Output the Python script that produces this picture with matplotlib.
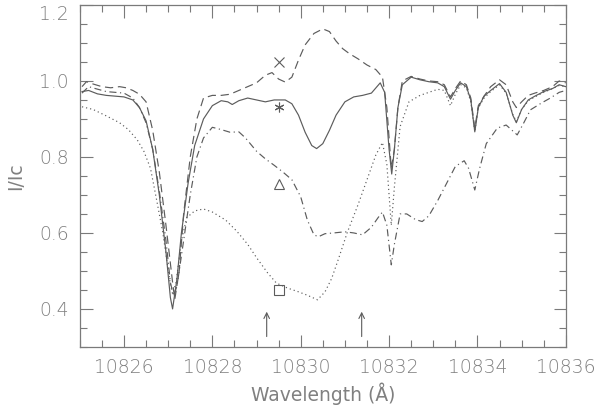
import numpy as np
import matplotlib
matplotlib.use("Agg")
import matplotlib.pyplot as plt
from matplotlib.ticker import MultipleLocator

# Solid profile
wl_solid = [10825.05, 10825.2, 10825.4, 10825.6, 10825.8, 10826.0, 10826.2, 10826.35, 10826.5, 10826.65,
            10826.8, 10826.95, 10827.05, 10827.1, 10827.2, 10827.3, 10827.45, 10827.6, 10827.8, 10828.0,
            10828.2, 10828.35, 10828.45, 10828.6, 10828.8, 10829.0, 10829.2, 10829.4, 10829.65, 10829.8,
            10829.95, 10830.1, 10830.25, 10830.36, 10830.5, 10830.65, 10830.8, 10831.0, 10831.2, 10831.4,
            10831.6, 10831.8, 10831.9, 10832.0, 10832.06, 10832.12, 10832.2, 10832.3, 10832.5, 10832.7,
            10832.9, 10833.1, 10833.25, 10833.39, 10833.5, 10833.62, 10833.75, 10833.85, 10833.94, 10834.02,
            10834.15, 10834.3, 10834.5, 10834.65, 10834.8, 10834.88, 10835.0, 10835.15, 10835.3, 10835.5,
            10835.7, 10835.85, 10836.0]
i_solid = [0.972, 0.975, 0.966, 0.962, 0.960, 0.958, 0.950, 0.930, 0.895, 0.820,
           0.700, 0.550, 0.430, 0.400, 0.480, 0.600, 0.730, 0.830, 0.900, 0.935,
           0.948, 0.945, 0.938, 0.948, 0.955, 0.950, 0.945, 0.950, 0.950, 0.940,
           0.910, 0.865, 0.830, 0.822, 0.835, 0.870, 0.910, 0.945, 0.958, 0.962,
           0.968, 0.995, 0.970, 0.820, 0.755, 0.820, 0.930, 0.990, 1.010, 1.003,
           0.998, 0.995, 0.985, 0.952, 0.975, 0.995, 0.985, 0.950, 0.866, 0.930,
           0.960, 0.975, 0.993, 0.970, 0.910, 0.890, 0.925, 0.950, 0.960, 0.972,
           0.980, 0.990, 0.985]

# Long dashed profile
wl_dash = [10825.05, 10825.15, 10825.3, 10825.5, 10825.7, 10825.9, 10826.05, 10826.2, 10826.35, 10826.5,
           10826.65, 10826.8, 10826.95, 10827.1, 10827.15, 10827.25, 10827.35, 10827.5, 10827.65, 10827.8,
           10828.0, 10828.2, 10828.4, 10828.6, 10828.8, 10829.0, 10829.2, 10829.35, 10829.5, 10829.65,
           10829.8, 10829.95, 10830.1, 10830.3, 10830.5, 10830.65, 10830.8, 10830.95, 10831.1, 10831.3,
           10831.5, 10831.7, 10831.85, 10831.95, 10832.05, 10832.12, 10832.2, 10832.3, 10832.5, 10832.7,
           10832.9, 10833.1, 10833.25, 10833.39, 10833.5, 10833.62, 10833.75, 10833.85, 10833.94, 10834.02,
           10834.15, 10834.3, 10834.5, 10834.65, 10834.8, 10834.88, 10835.0, 10835.15, 10835.3, 10835.5,
           10835.7, 10835.85, 10836.0]
i_dash = [0.985, 0.998, 0.992, 0.985, 0.982, 0.985, 0.982, 0.975, 0.965, 0.945,
          0.870, 0.760, 0.620, 0.470, 0.425, 0.500, 0.650, 0.800, 0.900, 0.955,
          0.962, 0.962, 0.965, 0.975, 0.985, 0.995, 1.015, 1.022, 1.005, 0.997,
          1.010, 1.055, 1.095, 1.125, 1.137, 1.130, 1.105, 1.085, 1.072, 1.058,
          1.042, 1.030, 1.010, 0.930, 0.770, 0.820, 0.930, 1.000, 1.012, 1.005,
          1.000, 0.998, 0.990, 0.958, 0.980, 1.000, 0.990, 0.955, 0.875, 0.935,
          0.960, 0.985, 1.003, 0.990, 0.945, 0.930, 0.945, 0.962, 0.968, 0.975,
          0.985, 1.000, 0.995]

# Dash-dot profile
wl_dashdot = [10825.05, 10825.2, 10825.35, 10825.6, 10825.8, 10826.0, 10826.2, 10826.35, 10826.5, 10826.65,
              10826.8, 10826.95, 10827.05, 10827.12, 10827.2, 10827.35, 10827.5, 10827.65, 10827.8, 10828.0,
              10828.2, 10828.4, 10828.6, 10828.75, 10829.0, 10829.2, 10829.4, 10829.6, 10829.8, 10830.0,
              10830.15, 10830.3, 10830.4, 10830.55, 10830.75, 10831.0, 10831.2, 10831.4, 10831.6, 10831.75,
              10831.85, 10831.95, 10832.05, 10832.12, 10832.25, 10832.4, 10832.6, 10832.75, 10832.9, 10833.1,
              10833.3, 10833.5, 10833.7, 10833.8, 10833.94, 10834.05, 10834.2, 10834.45, 10834.65, 10834.9,
              10835.05, 10835.2, 10835.45, 10835.65, 10835.85, 10836.0]
i_dashdot = [0.968, 0.985, 0.980, 0.972, 0.970, 0.968, 0.955, 0.930, 0.890, 0.820,
             0.710, 0.580, 0.470, 0.435, 0.460, 0.580, 0.700, 0.800, 0.850, 0.878,
             0.872, 0.865, 0.866, 0.850, 0.815, 0.795, 0.778, 0.760, 0.740, 0.695,
             0.634, 0.595, 0.590, 0.598, 0.600, 0.603, 0.600, 0.595, 0.615, 0.640,
             0.655, 0.620, 0.516, 0.570, 0.650, 0.650, 0.635, 0.630, 0.645, 0.685,
             0.730, 0.775, 0.790, 0.770, 0.713, 0.770, 0.835, 0.876, 0.884, 0.858,
             0.890, 0.924, 0.942, 0.955, 0.970, 0.975]

# Dotted profile
wl_dot = [10825.05, 10825.3, 10825.6, 10825.9, 10826.1, 10826.3, 10826.45, 10826.6, 10826.75, 10826.88,
          10826.98, 10827.05, 10827.1, 10827.18, 10827.3, 10827.42, 10827.6, 10827.8, 10828.0, 10828.3,
          10828.55, 10828.8, 10829.0, 10829.25, 10829.45, 10829.7, 10829.95, 10830.15, 10830.38, 10830.55,
          10830.7, 10830.85, 10831.05, 10831.3, 10831.5, 10831.7, 10831.85, 10831.95, 10832.05, 10832.12,
          10832.25, 10832.45, 10832.7, 10832.9, 10833.1, 10833.25, 10833.39, 10833.5, 10833.62, 10833.75,
          10833.85, 10833.94, 10834.02, 10834.15, 10834.3, 10834.5, 10834.65, 10834.8, 10834.88, 10835.0,
          10835.15, 10835.3, 10835.5, 10835.7, 10835.85, 10836.0]
i_dot = [0.932, 0.925, 0.908, 0.890, 0.872, 0.845, 0.815, 0.770, 0.680, 0.600,
         0.520, 0.465, 0.440, 0.470, 0.580, 0.640, 0.658, 0.663, 0.655, 0.634,
         0.605, 0.570, 0.535, 0.495, 0.468, 0.455, 0.445, 0.436, 0.424, 0.445,
         0.480, 0.530, 0.600, 0.675, 0.740, 0.805, 0.838, 0.780, 0.620, 0.720,
         0.880, 0.945, 0.962, 0.970, 0.978, 0.975, 0.935, 0.965, 0.990, 0.982,
         0.945, 0.866, 0.930, 0.955, 0.972, 0.990, 0.968, 0.912, 0.893, 0.925,
         0.948, 0.958, 0.970, 0.980, 0.988, 0.985]

# Symbols marking each profile, and the two arrows
mark_wl = 10829.5
mark_i = [1.05, 0.932, 0.73, 0.45]
mark_sym = ["x", (6, 2, 0), "^", "s"]
arrow_wl = [10829.23, 10831.38]

line_col = "#5c5c5c"
axis_col = "#7a7a7a"
text_col = "#808080"
plt.rcParams["font.family"] = ["DejaVu Sans"]
plt.rcParams["font.weight"] = "light"

fig = plt.figure(figsize=(6.0, 4.13), dpi=100)
ax = fig.add_axes([0.133, 0.160, 0.810, 0.828])

ax.plot(wl_solid, i_solid, color=line_col, lw=0.85, ls="-")
ax.plot(wl_dash, i_dash, color=line_col, lw=0.85, ls=(0, (7, 4)))
ax.plot(wl_dashdot, i_dashdot, color=line_col, lw=0.85, ls=(0, (6, 3, 1, 3)))
ax.plot(wl_dot, i_dot, color=line_col, lw=0.85, ls=(0, (1, 2.5)))

for m, y in zip(mark_sym, mark_i):
    ax.plot([mark_wl], [y], marker=m, ms=7, mfc="none", mec=line_col, mew=0.8, ls="none")

for x in arrow_wl:
    ax.annotate("", xy=(x, 0.40), xytext=(x, 0.32),
                arrowprops=dict(arrowstyle="->", color=line_col, lw=0.8, mutation_scale=10))

ax.set_xlim(10825, 10836)
ax.set_ylim(0.3, 1.2)
ax.xaxis.set_major_locator(MultipleLocator(2))
ax.xaxis.set_minor_locator(MultipleLocator(0.5))
ax.yaxis.set_major_locator(MultipleLocator(0.2))
ax.yaxis.set_minor_locator(MultipleLocator(0.05))
ax.xaxis.set_major_formatter(plt.FuncFormatter(lambda v, p: "%d" % round(v)))
ax.yaxis.set_major_formatter(plt.FuncFormatter(lambda v, p: "%.1f" % v))

ax.tick_params(which="both", direction="in", top=True, right=True, color=axis_col,
               labelcolor=text_col, labelsize=13.5, width=0.8)
ax.tick_params(which="major", length=9, pad=8)
ax.tick_params(which="minor", length=5)
for s in ax.spines.values():
    s.set_color(axis_col)
    s.set_linewidth(0.9)

# keep the top y label inside the figure
fig.canvas.draw()
for t in ax.get_yticklabels():
    if t.get_text() == "1.2":
        t.set_verticalalignment("top")

ax.set_xlabel("Wavelength (Å)", fontsize=13.5, color=text_col, labelpad=4)
ax.set_ylabel("I/Ic", fontsize=13.5, color=text_col, labelpad=10)

fig.savefig("out.png", dpi=100)
